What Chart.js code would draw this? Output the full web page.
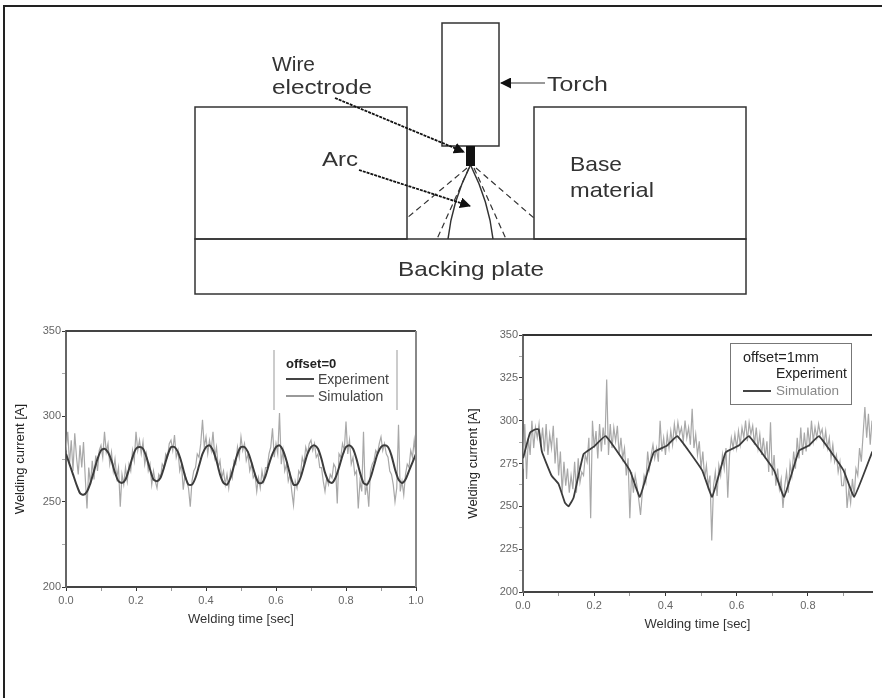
<!DOCTYPE html>
<html><head><meta charset="utf-8">
<script src="https://cdn.jsdelivr.net/npm/chart.js@4"></script>
<style>
html,body{margin:0;padding:0;background:#fff;overflow:hidden}
#page{position:relative;width:882px;height:698px;background:#fff;font-family:"Liberation Sans",Arial,sans-serif}
#frameT{position:absolute;left:3px;top:5px;width:879px;height:2px;background:#222}
#frameL{position:absolute;left:3px;top:5px;width:2px;height:693px;background:#222}
canvas{position:absolute;filter:blur(0.75px)}
#c1{left:0;top:320px}
#c2{left:440px;top:320px}
svg{position:absolute;left:0;top:0;filter:blur(0.55px)}
.t{position:absolute;white-space:nowrap;line-height:1;color:#222;filter:blur(0.7px)}
.l{position:absolute;height:2px;filter:blur(0.5px)}
</style></head><body>
<div id="page">
<div id="frameT"></div><div id="frameL"></div>
<svg width="882" height="320" font-family="Liberation Sans, Arial, sans-serif" fill="#333">
<defs><marker id="ah" markerWidth="11" markerHeight="11" refX="10" refY="5.5" orient="auto" markerUnits="userSpaceOnUse" viewBox="0 0 11 11"><path d="M0 0L11 5.5L0 11z" fill="#111"/></marker></defs>
<g fill="none" stroke="#333" stroke-width="1.5">
<rect x="195" y="107" width="212" height="132"/>
<rect x="534" y="107" width="212" height="132"/>
<rect x="195" y="239" width="551" height="55"/>
<rect x="442" y="23" width="57" height="123" fill="#fff"/>
<path d="M470 166C458 190 451 212 448 239M471 166C483 190 490 212 493 239"/>
<g stroke-dasharray="6 4" stroke-width="1.2"><path d="M467 168L407 218M476 168L534 218M469 168L437 239M474 168L506 239"/></g>
<path d="M335 98L464 152" stroke="#111" stroke-width="1.8" stroke-dasharray="3 1" marker-end="url(#ah)"/>
<path d="M359 170L470 206" stroke="#111" stroke-width="1.8" stroke-dasharray="3 1" marker-end="url(#ah)"/>
<path d="M545 83L501 83" stroke="#777" marker-end="url(#ah)"/>
</g>
<rect x="466" y="146" width="9" height="20" fill="#111"/>
<g font-size="21">
<text x="272" y="71" textLength="43" lengthAdjust="spacingAndGlyphs">Wire</text>
<text x="272" y="94" textLength="100" lengthAdjust="spacingAndGlyphs">electrode</text>
<text x="547" y="91" textLength="61" lengthAdjust="spacingAndGlyphs">Torch</text>
<text x="322" y="166" textLength="36" lengthAdjust="spacingAndGlyphs">Arc</text>
<text x="570" y="171" textLength="52" lengthAdjust="spacingAndGlyphs">Base</text>
<text x="570" y="197" textLength="84" lengthAdjust="spacingAndGlyphs">material</text>
<text x="398" y="276" textLength="146" lengthAdjust="spacingAndGlyphs">Backing plate</text>
</g>
</svg>
<canvas id="c1" width="440" height="320"></canvas>
<canvas id="c2" width="442" height="320"></canvas>
<!-- legend, left chart -->
<div class="l" style="left:273px;top:350px;width:1.5px;height:60px;background:#ccc"></div>
<div class="l" style="left:396px;top:350px;width:1.5px;height:60px;background:#ccc"></div>
<div class="t" id="lg1a" style="left:286px;top:357px;font-size:13px;font-weight:bold"></div>
<div class="l" style="left:286px;top:378px;width:28px;background:#444"></div>
<div class="t" id="lg1b" style="left:318px;top:372px;font-size:14px;color:#444"></div>
<div class="l" style="left:286px;top:395px;width:28px;background:#999"></div>
<div class="t" id="lg1c" style="left:318px;top:389px;font-size:14px;color:#444"></div>
<!-- legend, right chart -->
<div style="position:absolute;left:730px;top:343px;width:120px;height:60px;border:1.5px solid #777;filter:blur(0.4px)"></div>
<div class="t" id="lg2a" style="left:743px;top:350px;font-size:14.5px"></div>
<div class="t" id="lg2b" style="left:776px;top:366px;font-size:14px"></div>
<div class="l" style="left:743px;top:389.5px;width:28px;background:#444"></div>
<div class="t" id="lg2c" style="left:776px;top:384px;font-size:13.5px;color:#888"></div>
</div>
<script>
// ---------- left chart (offset = 0) ----------
const leftExpTime = [0,.01,.02,.03,.04,.05,.06,.07,.08,.09,.10,.11,.12,.13,.14,.15,.16,.17,.18,.19,.20,.21,.22,.23,.24,.25,.26,.27,.28,.29,.30,.31,.32,.33,.34,.35,.36,.37,.38,.39,.40,.41,.42,.43,.44,.45,.46,.47,.48,.49,.50,.51,.52,.53,.54,.55,.56,.57,.58,.59,.60,.61,.62,.63,.64,.65,.66,.67,.68,.69,.70,.71,.72,.73,.74,.75,.76,.77,.78,.79,.80,.81,.82,.83,.84,.85,.86,.87,.88,.89,.90,.91,.92,.93,.94,.95,.96,.97,.98,.99,1.0];
const leftExp = [278,272,266,260,255,254,256,261,268,275,280,281,279,274,267,262,261,263,269,276,281,282,281,276,269,263,262,264,270,277,282,282,279,273,265,260,260,264,271,278,282,283,280,274,266,261,260,264,271,278,282,282,279,273,266,261,261,265,272,278,282,283,280,274,266,260,260,264,271,278,282,283,281,275,267,262,261,264,270,277,282,283,281,275,267,261,260,264,271,278,282,283,282,277,269,263,261,263,268,273,278];
const leftSim = [
280,291,272,286,268,290,276,266,283,270,285,264,246,270,260,274,263,277,268,280,
283,276,291,279,284,272,279,268,275,264,270,247,266,260,270,262,272,268,280,274,
291,280,286,278,285,272,278,268,272,260,268,262,258,266,264,272,270,278,276,284,
286,280,289,276,280,268,272,257,266,262,258,247,262,268,270,278,276,284,298,282,
288,278,286,280,291,276,282,270,274,264,268,260,266,258,268,264,274,272,282,276,
288,280,284,274,278,268,272,264,266,256,264,258,268,262,270,270,278,282,293,276,
284,278,302,272,280,268,272,262,266,256,248,262,258,268,266,276,272,282,278,284,
286,280,284,276,278,270,270,262,256,264,260,266,264,272,270,249,278,276,284,280,
297,278,286,272,276,266,268,246,262,256,291,254,260,247,268,272,274,280,278,284,
288,280,284,278,276,268,266,260,250,258,295,256,262,254,266,272,270,280,276,286,276];
const leftTickLabels = {0:"0.0",2:"0.2",4:"0.4",6:"0.6",8:"0.8",10:"1.0"};
// ---------- right chart (offset = 1 mm) ----------
const rightSimTime = [0,.02,.035,.044,.053,.08,.10,.118,.128,.142,.17,.2,.232,.30,.328,.367,.405,.433,.503,.531,.569,.606,.634,.705,.733,.775,.803,.831,.90,.93,.981];
const rightSim = [278,293,295,295,282,268,263,252,250,255,280.5,285,291,271,255.6,281.5,285.5,291,271,255.6,281.5,285.5,291,271,255.6,282.5,285.5,291,271,255.6,282];
const rightExp = [
272,298,266,290,280,300,284,296,290,298,285,296,282,298,280,292,284,297,275,290,
268,282,258,276,262,272,258,268,260,276,258,278,264,270,268,280,276,290,243,300,
284,294,278,298,282,296,286,324,280,298,284,296,288,297,280,290,278,284,268,278,
243,270,258,268,262,254,245,258,268,264,282,272,280,286,278,284,276,300,282,290,
280,292,284,294,286,298,290,299,292,296,288,300,290,296,286,307,284,292,280,288,
272,282,266,274,262,268,230,262,270,256,274,268,280,272,284,255,280,290,284,292,
284,294,286,296,290,300,288,299,292,297,286,296,284,292,280,290,278,288,270,299,
268,280,262,272,260,266,249,262,270,258,275,268,282,272,290,278,296,280,293,282,
296,285,300,288,296,290,298,292,295,286,294,284,290,278,286,276,280,270,276,262,
262,272,249,260,252,266,256,272,268,284,276,292,308,290,304,286,300];
const rightTickLabels = {0:"0.0",2:"0.2",4:"0.4",6:"0.6",8:"0.8"};
const xTitle = "Welding time [sec]";
const yTitle = "Welding current [A]";
const legendLeft = ["offset=0","Experiment","Simulation"];
const legendRight = ["offset=1mm","Experiment","Simulation"];
const simStep = 0.005;

lg1a.textContent=legendLeft[0];lg1b.textContent=legendLeft[1];lg1c.textContent=legendLeft[2];
lg2a.textContent=legendRight[0];lg2b.textContent=legendRight[1];lg2c.textContent=legendRight[2];

const pairs=(xs,ys)=>ys.map((y,i)=>({x:xs[i],y}));
const stepped=ys=>ys.map((y,i)=>({x:+(i*simStep).toFixed(3),y}));

const frame=(topCol,rightCol)=>({id:'frame',afterDatasetsDraw(c){
  const a=c.chartArea,g=c.ctx;g.save();g.lineWidth=2;
  g.strokeStyle=topCol;g.beginPath();g.moveTo(a.left,a.top);g.lineTo(a.right,a.top);g.stroke();
  if(rightCol){g.strokeStyle=rightCol;g.beginPath();g.moveTo(a.right,a.top);g.lineTo(a.right,a.bottom);g.stroke();}
  g.restore();}});

function build(id,cfg){
  return new Chart(document.getElementById(id),{
    type:'line',
    data:{datasets:cfg.datasets},
    plugins:[frame(cfg.topCol,cfg.rightCol)],
    options:{
      responsive:false,animation:false,
      layout:{padding:cfg.padding},
      plugins:{legend:{display:false},tooltip:{enabled:false}},
      elements:{point:{radius:0}},
      scales:{
        x:{type:'linear',min:0,max:cfg.xMax,
          afterFit:s=>{s.height=cfg.xH},
          afterBuildTicks:s=>{s.ticks=cfg.xTicks.map(v=>({value:v/10}))},
          grid:{drawOnChartArea:false,tickLength:4,tickColor:t=>Math.round(t.tick.value*10)%2?'#999':'#333',lineWidth:1},
          border:{color:'#444',width:2},
          ticks:{autoSkip:false,maxRotation:0,padding:3,color:'#666',font:{size:11,family:'Liberation Sans'},
            callback:(v)=>cfg.xLabels[Math.round(v*10)]||''},
          title:{display:true,text:xTitle,color:'#333',font:{size:13,family:'Liberation Sans'},padding:{top:0,bottom:cfg.xTitlePad}}},
        y:{type:'linear',min:200,max:350,
          afterFit:s=>{s.width=cfg.yW},
          afterBuildTicks:s=>{s.ticks=cfg.yTicks.map(v=>({value:v}))},
          grid:{drawOnChartArea:false,tickLength:4,tickColor:t=>cfg.yLabel(t.tick.value)?'#333':'#aaa',lineWidth:1},
          border:{color:'#666',width:2},
          ticks:{autoSkip:false,padding:1,color:'#666',font:{size:11,family:'Liberation Sans'},
            callback:v=>cfg.yLabel(v)?String(v):''},
          title:{display:true,text:yTitle,color:'#222',font:{size:13,family:'Liberation Sans'},padding:{top:cfg.yTitlePad,bottom:0}}}
      }
    }
  });
}
const dark=(label,data,w,tension)=>({label,data,borderColor:'#3c3c3c',borderWidth:w,order:1,tension,pointRadius:0});
const gray=(label,data)=>({label,data,borderColor:'#a8a8a8',borderWidth:1.2,order:2,tension:0,pointRadius:0});

build('c1',{
  datasets:[dark(legendLeft[1],pairs(leftExpTime,leftExp),2,.25),gray(legendLeft[2],stepped(leftSim))],
  padding:{top:11,right:24,left:0,bottom:0},xMax:1,xH:53,yW:66,xTitlePad:13,yTitlePad:13,
  xTicks:[0,1,2,3,4,5,6,7,8,9,10],xLabels:leftTickLabels,
  yTicks:[200,225,250,275,300,325,350],yLabel:v=>v%50===0,topCol:'#444',rightCol:'#888'
});
build('c2',{
  datasets:[dark(legendRight[2],pairs(rightSimTime,rightSim),1.8,.1),gray(legendRight[1],stepped(rightExp))],
  padding:{top:15,right:10,left:0,bottom:0},xMax:.98,xH:48,yW:83,xTitlePad:8,yTitlePad:26,
  xTicks:[0,1,2,3,4,5,6,7,8,9],xLabels:rightTickLabels,
  yTicks:[200,212.5,225,237.5,250,262.5,275,287.5,300,312.5,325,337.5,350],yLabel:v=>v%25===0,topCol:'#333',rightCol:null
});
</script>
</body></html>
